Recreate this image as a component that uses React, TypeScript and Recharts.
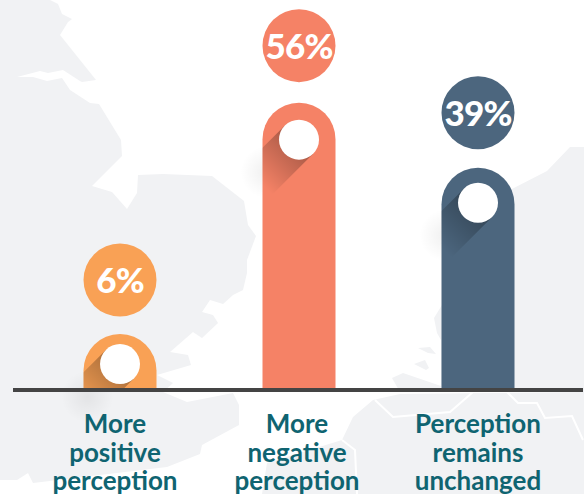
import { Bar, BarChart, Cell, XAxis, YAxis } from "recharts";

const categories = ["More positive perception", "More negative perception", "Perception remains unchanged"];
const percentages = [6, 56, 39];
// bar heights in the picture are not proportional to the printed percentages
const barLevels = [10.9, 56, 43.3];
const barColors = ["#f9a155", "#f58266", "#4c667e"];

const chartData = categories.map((name, i) => ({ name, level: barLevels[i], percent: percentages[i] }));

const BADGE_RADIUS = 36.5;
const KNOB_RADIUS = 20;
const BADGE_OFFSETS = [54, 57, 55];
const KNOB_OFFSETS = [30, 37, 35];
const TICK_SHIFTS = [-5, -2, 0];
const SHADOW_LENGTH = 58;
const AXIS_OVERLAP = 2;
const FONT = "Lato, sans-serif";

const land = [
  "0,0 50,0 58,4 62,14 72,19 68,22 60,35 96,80 82,82 80,81 63,70 48,73 40,71 17,77 33,77 47,81 62,78 70,90 90,103 99,104 121,140 122,156 92,186 112,192 127,209 137,193 138,175 163,174 212,176 244,201 248,225 256,236 247,260 247,273 243,290 233,295 223,304 210,300 202,312 213,315 218,323 202,338 193,332 170,352 188,355 191,365 157,375 173,383 163,392 187,402 233,393 239,405 239,425 202,445 200,454 167,467 33,483 28,473 17,480 0,480",
  "584,147 570,147 547,171 500,195 445,300 434,318 437,333 441,340 441,392 584,392",
  "373,400 400,394 584,392 584,494 262,494 267,463 342,440 353,417",
  "418,348 430,347 436,354 428,353",
  "414,364 425,360 429,368 426,370",
  "392,378 403,373 441,386 441,390 400,392",
];
const borders = [
  "375,400 393,417 450,412 473,392 507,392 518,403 537,403 545,418 572,416 583,440",
  "342,440 355,450 357,494",
];

function pillPath(x: number, y: number, w: number, h: number) {
  const r = w / 2;
  return `M${x},${y + h} L${x},${y + r} A${r},${r} 0 0 1 ${x + w},${y + r} L${x + w},${y + h} Z`;
}

function PillShape(props: any) {
  const { x, y, width, height, index, fill } = props;
  const cx = x + width / 2;
  const knobY = y + KNOB_OFFSETS[index];
  const badgeY = y - BADGE_OFFSETS[index];
  const d = Math.SQRT1_2;
  const end = { x: cx - d * SHADOW_LENGTH, y: knobY + d * SHADOW_LENGTH };
  const band = [
    [cx - d * KNOB_RADIUS, knobY - d * KNOB_RADIUS],
    [cx + d * KNOB_RADIUS, knobY + d * KNOB_RADIUS],
    [end.x + d * KNOB_RADIUS, end.y + d * KNOB_RADIUS],
    [end.x - d * KNOB_RADIUS, end.y - d * KNOB_RADIUS],
  ]
    .map((p) => p.join(","))
    .join(" ");
  const path = pillPath(x, y, width, height - AXIS_OVERLAP);
  return (
    <g>
      <defs>
        <linearGradient id={`shadow-${index}`} gradientUnits="userSpaceOnUse" x1={cx} y1={knobY} x2={end.x} y2={end.y}>
          <stop offset="0%" stopColor="#000" stopOpacity={0.32} />
          <stop offset="100%" stopColor="#000" stopOpacity={0} />
        </linearGradient>
        <radialGradient id={`halo-${index}`}>
          <stop offset="0%" stopColor="#000" stopOpacity={0.06} />
          <stop offset="100%" stopColor="#000" stopOpacity={0} />
        </radialGradient>
        <clipPath id={`pill-${index}`}>
          <path d={path} />
        </clipPath>
      </defs>
      <circle cx={cx - d * 46} cy={knobY + d * 46} r={26} fill={`url(#halo-${index})`} />
      <path d={path} fill={fill} />
      <polygon points={band} fill={`url(#shadow-${index})`} clipPath={`url(#pill-${index})`} />
      <circle cx={cx} cy={knobY} r={KNOB_RADIUS} fill="#fff" />
      <circle cx={cx} cy={badgeY} r={BADGE_RADIUS} fill={fill} />
      <text x={cx} y={badgeY + 13} textAnchor="middle" fill="#fff" fontFamily={FONT} fontWeight={900} fontSize={35} letterSpacing={-0.8}>
        {percentages[index]}%
      </text>
    </g>
  );
}

function CategoryTick({ x, y, index, payload }: any) {
  const words = String(payload.value).split(" ");
  return (
    <text textAnchor="middle" fill="#0f6471" fontFamily={FONT} fontWeight={700} fontSize={26}>
      {words.map((word, i) => (
        <tspan key={word} x={x + TICK_SHIFTS[index]} y={y + 35 + i * 28.5}>
          {word}
        </tspan>
      ))}
    </text>
  );
}

export default function App() {
  return (
    <div style={{ position: "absolute", left: 0, top: 0, width: 584, height: 494, overflow: "hidden", background: "#fff" }}>
      <svg width={584} height={494} style={{ position: "absolute", left: 0, top: 0 }}>
        {land.map((points) => (
          <polygon key={points} points={points} fill="#f1f2f4" />
        ))}
        {borders.map((points) => (
          <polyline key={points} points={points} fill="none" stroke="#fff" strokeWidth={2} />
        ))}
      </svg>
      <div style={{ position: "absolute", left: 0, top: 0 }}>
        <BarChart width={584} height={494} data={chartData} margin={{ top: 0, right: 1, bottom: 0, left: 13 }}>
          <XAxis
            dataKey="name"
            height={104}
            interval={0}
            padding={{ left: 17.5, right: 15.5 }}
            axisLine={{ stroke: "#444444", strokeWidth: 4 }}
            tickLine={false}
            tick={<CategoryTick />}
          />
          <YAxis hide domain={[0, 76]} />
          <Bar dataKey="level" barSize={73} shape={<PillShape />} isAnimationActive={false}>
            {chartData.map((row, i) => (
              <Cell key={row.name} fill={barColors[i]} />
            ))}
          </Bar>
        </BarChart>
      </div>
    </div>
  );
}
